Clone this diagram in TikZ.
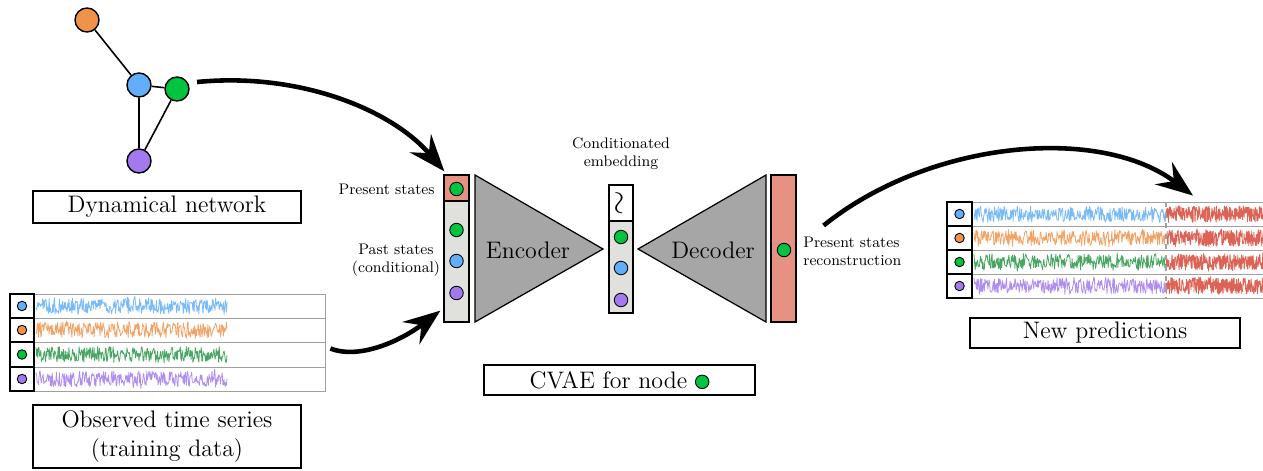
\documentclass[tikz,border=0pt]{standalone}
\usepackage{fontspec}
\usetikzlibrary{arrows.meta,calc}
\definecolor{cblue}{RGB}{98,174,250}
\definecolor{corange}{RGB}{240,146,74}
\definecolor{cgreen}{RGB}{0,196,64}
\definecolor{cpurple}{RGB}{162,122,238}
\definecolor{tgreen}{RGB}{40,150,70}
\definecolor{tred}{RGB}{214,72,56}
\definecolor{salmon}{RGB}{230,145,130}
\definecolor{colgray}{RGB}{224,224,220}
\definecolor{trigray}{RGB}{166,166,166}
\definecolor{gridgray}{RGB}{160,160,160}
\newcommand\mytrace[4]{%
  \draw[#1, line width=0.45pt, line join=round, opacity=0.85]
    plot[domain=#2:#3, samples=320] (\x, {#4+8*rand+3*rand*rand*rand});}
\begin{document}
\begin{tikzpicture}[x=0.02cm,y=-0.02cm,
  netnode/.style={circle,draw,line width=0.8pt,minimum size=0.48cm,inner sep=0},
  dot/.style={circle,draw,line width=0.5pt,minimum size=0.27cm,inner sep=0},
  tdot/.style={circle,draw,line width=0.5pt,minimum size=0.19cm,inner sep=0},
  labelbox/.style={draw,line width=1pt,font=\fontsize{13.6}{16.5}\selectfont,inner sep=0,align=center},
  small/.style={font=\fontsize{8.7}{10.3}\selectfont,align=center,inner sep=0},
  col/.style={draw,line width=0.7pt,minimum width=0.5cm,inner sep=0},
  tri/.style={draw,line width=0.7pt,fill=trigray,line join=miter},
  bigarrow/.style={line width=2.6pt,-{Stealth[length=0.74cm,width=0.56cm,inset=0.26cm]}},
]
\useasboundingbox (0,0) rectangle (1263,470);
\pgfmathsetseed{7}

% ---------- network ----------
\node[netnode,fill=corange] (no) at (87,20) {};
\node[netnode,fill=cblue] (nb) at (139,85) {};
\node[netnode,fill=cgreen] (ng) at (177,89) {};
\node[netnode,fill=cpurple] (np) at (139,161) {};
\draw[line width=0.9pt] (no) -- (nb) (nb) -- (ng) (nb) -- (np) (ng) -- (np);
\node[labelbox,minimum width=5.36cm,minimum height=0.64cm] (dn) at (167,207) {Dynamical network};

% ---------- left table ----------
\node[draw=gridgray,line width=0.5pt,minimum width=6.3cm,minimum height=1.94cm,inner sep=0] (lt) at (167.5,342.5) {};
\foreach \y in {318,342,367} \draw[gridgray,line width=0.5pt] (10,\y) -- (325,\y);
\foreach \c/\ya/\yb [count=\i] in {cblue/294/318,corange/318/342,cgreen/342/367,cpurple/367/391}{
  \draw[line width=1pt] (10,\ya) rectangle (34,\yb);
  \node[tdot,fill=\c] (ld\i) at (22,{(\ya+\yb)/2}) {};
}
\mytrace{cblue}{36}{227}{306}
\mytrace{corange}{36}{227}{330}
\mytrace{tgreen}{36}{227}{354.5}
\mytrace{cpurple}{36}{227}{379}
\node[labelbox,line width=1.5pt,minimum width=5.36cm,minimum height=1.26cm] (ots) at (167,436.5) {Observed time series\\(training data)};

% ---------- encoder input ----------
\node[col,fill=salmon,minimum height=0.52cm] (pres) at (456.5,188) {};
\node[col,fill=colgray,minimum height=2.42cm] (past) at (456.5,261.5) {};
\node[dot,fill=cgreen] (pd0) at (456.5,189) {};
\node[dot,fill=cgreen] (pd1) at (456.5,230) {};
\node[dot,fill=cblue] (pd2) at (456.5,261) {};
\node[dot,fill=cpurple] (pd3) at (456.5,293) {};
\node[small,anchor=east] (lpres) at (435,189) {Present states};
\node[small] (lpast) at (396,260) {Past states\\(conditional)};

% ---------- encoder / decoder ----------
\draw[tri] (475,175) -- (475,322) -- (603,249) -- cycle;
\node[font=\fontsize{13.6}{16}\selectfont] (enc) at (528,250) {Encoder};
\draw[tri] (766,175) -- (766,322) -- (638,249) -- cycle;
\node[font=\fontsize{13.6}{16}\selectfont] (decl) at (713,250) {Decoder};

% ---------- embedding ----------
\node[col,fill=white,minimum width=0.48cm,minimum height=0.72cm] (zc) at (621,203) {\scalebox{1.8}{\rotatebox{90}{$\sim$}}};
\node[col,fill=colgray,minimum width=0.48cm,minimum height=1.84cm] (emb) at (621,267) {};
\node[dot,fill=cgreen] (ed1) at (621,237) {};
\node[dot,fill=cblue] (ed2) at (621,268) {};
\node[dot,fill=cpurple] (ed3) at (621,300) {};
\node[small] (lemb) at (621,154) {Conditionated\\embedding};

% ---------- decoder output ----------
\node[col,fill=salmon,minimum height=2.94cm] (dec) at (783.5,248.5) {};
\node[dot,fill=cgreen] (dd) at (784,250) {};
\node[small,anchor=west,align=left] (lrec) at (803,251) {Present states\\reconstruction};

\node[labelbox,minimum width=5.42cm,minimum height=0.6cm] (cvae) at (619.5,380) {CVAE for node \tikz[baseline=-0.6ex]\node[dot,fill=cgreen]{};};

% ---------- right table ----------
\node[draw=gridgray,line width=0.5pt,minimum width=6.36cm,minimum height=1.92cm,inner sep=0] (rt) at (1106,250) {};
\foreach \y in {226,250,274} \draw[gridgray,line width=0.5pt] (947,\y) -- (1265,\y);
\foreach \c/\ya/\yb [count=\i] in {cblue/202/226,corange/226/250,cgreen/250/274,cpurple/274/298}{
  \draw[line width=1pt] (947,\ya) rectangle (972,\yb);
  \node[tdot,fill=\c] (rd\i) at (959.5,{(\ya+\yb)/2}) {};
}
\mytrace{cblue}{974}{1166}{214}
\mytrace{corange}{974}{1166}{238}
\mytrace{tgreen}{974}{1166}{262}
\mytrace{cpurple}{974}{1166}{286}
\mytrace{tred}{1166}{1263}{214}
\mytrace{tred}{1166}{1263}{238}
\mytrace{tred}{1166}{1263}{262}
\mytrace{tred}{1166}{1263}{286}
\draw[gridgray,line width=0.6pt,dashed] (1166,202) -- (1166,298);
\node[labelbox,minimum width=5.4cm,minimum height=0.6cm] (np2) at (1105,333) {New predictions};

% ---------- arrows ----------
\coordinate (a1s) at ($(ng)+(20,-7)$);
\draw[bigarrow] (a1s) .. controls (300,72) and (392,110) .. ($(pres.north west)+(1,-3)$);
\coordinate (a2s) at ($(lt.east)+(5,6)$);
\draw[bigarrow] (a2s) .. controls (360,360) and (402,340) .. ($(past.south west)+(-3,-12)$);
\coordinate (a3s) at ($(dec.east)+(27,-23)$);
\draw[bigarrow] (a3s) .. controls (930,140) and (1100,125) .. ($(rt.north)+(87,-6)$);
\end{tikzpicture}
\end{document}
